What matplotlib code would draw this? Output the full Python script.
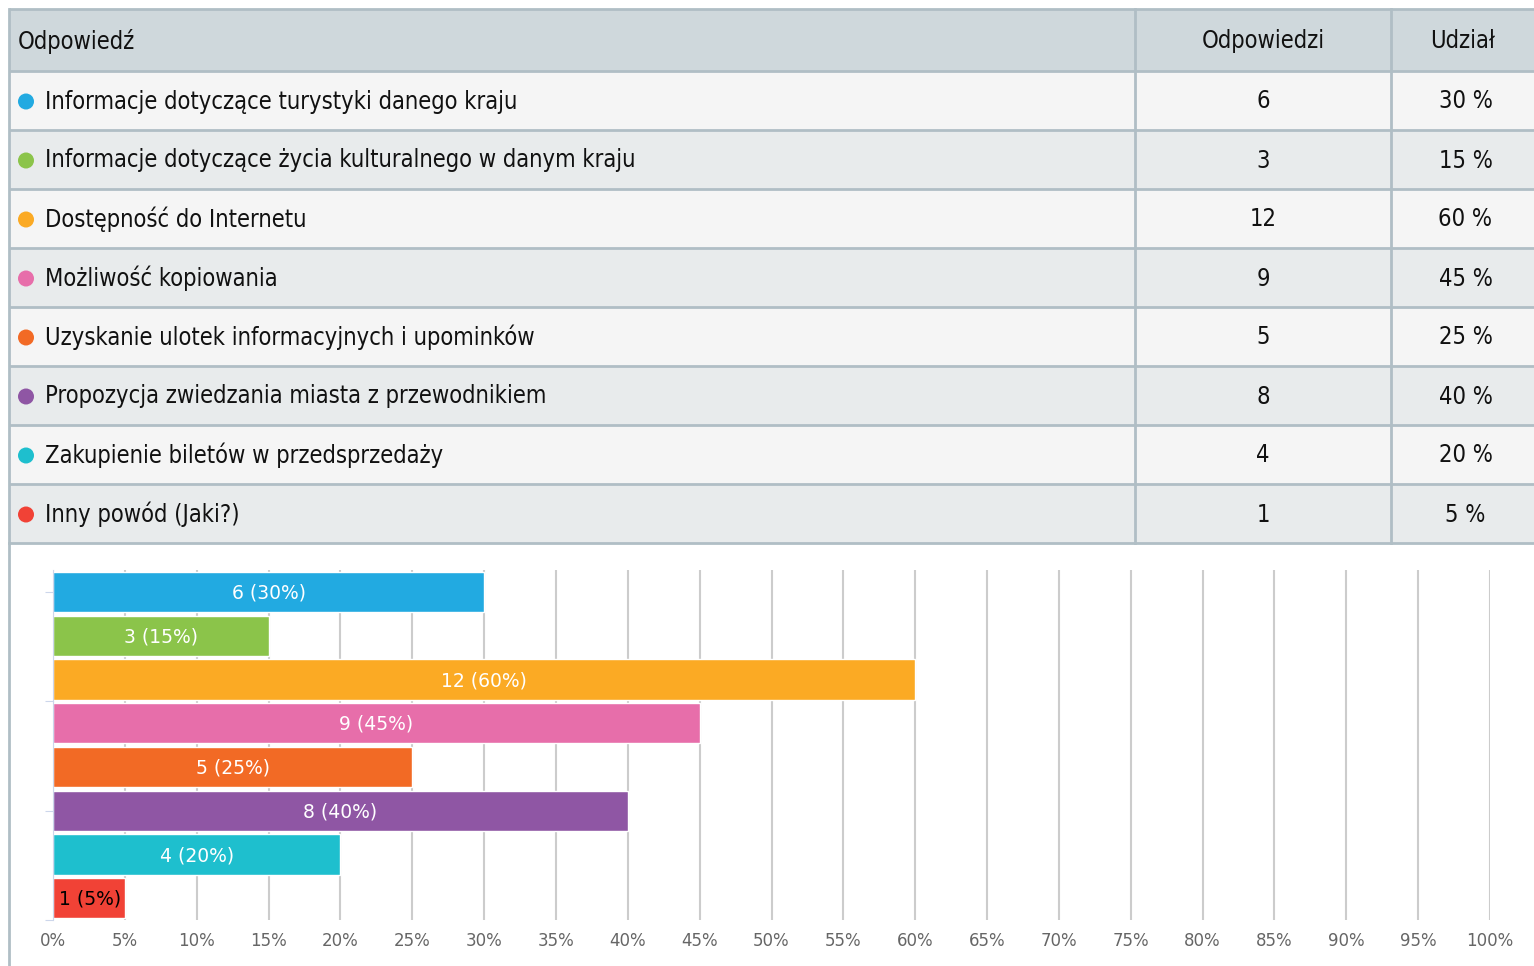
import matplotlib.pyplot as plt
from matplotlib.patches import Rectangle, Circle

# data
answers = [
    'Informacje dotyczące turystyki danego kraju',
    'Informacje dotyczące życia kulturalnego w danym kraju',
    'Dostępność do Internetu',
    'Możliwość kopiowania',
    'Uzyskanie ulotek informacyjnych i upominków',
    'Propozycja zwiedzania miasta z przewodnikiem',
    'Zakupienie biletów w przedsprzedaży',
    'Inny powód (Jaki?)',
]
counts = [6, 3, 12, 9, 5, 8, 4, 1]
shares = [30, 15, 60, 45, 25, 40, 20, 5]
colors = ['#22aae1', '#8bc44a', '#fbaa24', '#e76eaa', '#f26a25',
          '#8f56a4', '#1ebfce', '#f14236']
headers = ['Odpowiedź', 'Odpowiedzi', 'Udział']
xticks = list(range(0, 101, 5))

W, H = 1534, 966
fig = plt.figure(figsize=(W / 100, H / 100), dpi=100)

# ---- table (pixel coordinates) ----
tab = fig.add_axes([0, 0, 1, 1])
tab.set_xlim(0, W)
tab.set_ylim(H, 0)
tab.axis('off')

x0, c1, c2, x1 = 9, 1135, 1391, W + 5
top, head_h, row_h = 9, 62, 59
line = '#b0bec5'

tab.add_patch(Rectangle((x0, top), x1 - x0, head_h, fc='#cfd8dc', ec='none'))
for i in range(len(answers)):
    y = top + head_h + i * row_h
    fc = '#f5f5f5' if i % 2 == 0 else '#e8ebec'
    tab.add_patch(Rectangle((x0, y), x1 - x0, row_h, fc=fc, ec='none'))

bottom = top + head_h + len(answers) * row_h
for k in range(len(answers) + 2):
    y = top + head_h + (k - 1) * row_h if k > 0 else top
    tab.plot([x0, x1], [y, y], color=line, lw=2, solid_capstyle='butt')
for x in [x0, c1, c2]:
    tab.plot([x, x], [top, bottom], color=line, lw=2)
tab.plot([x0, x0], [bottom, H], color=line, lw=2)

txt = dict(fontsize=17, family='DejaVu Sans', fontstretch='condensed',
           va='center', color='#111111')
ty = top + head_h / 2 + 1
tab.text(18, ty, headers[0], ha='left', **txt)
tab.text((c1 + c2) / 2, ty, headers[1], ha='center', **txt)
tab.text((c2 + W) / 2, ty, headers[2], ha='center', **txt)
for i, (a, n, s, c) in enumerate(zip(answers, counts, shares, colors)):
    yc = top + head_h + i * row_h + row_h / 2 + 1
    tab.add_patch(Circle((26, yc), 8, fc=c, ec='none'))
    tab.text(45, yc, a, ha='left', **txt)
    tab.text((c1 + c2) / 2, yc, str(n), ha='center', **txt)
    tab.text((c2 + W) / 2 + 3, yc, f'{s} %', ha='center', **txt)

# ---- bar chart ----
ax = fig.add_axes([53 / W, 1 - 920 / H, (1490 - 53) / W, (920 - 570) / H])
pos = list(range(len(shares)))
ax.barh(pos, shares, height=0.92, color=colors, edgecolor='white', linewidth=1, zorder=2)
ax.set_ylim(len(shares) - 0.5, -0.5)
ax.set_xlim(0, 100)
ax.set_xticks(xticks)
ax.set_xticklabels([f'{t}%' for t in xticks], fontsize=12, color='#666666')
ax.set_yticks([0, 2.5, 5, 7.5])
ax.set_yticklabels([])
ax.tick_params(axis='y', length=6, color='#ccd6eb')
ax.grid(axis='x', color='#cccccc', lw=1.5, zorder=0)
for sp in ax.spines.values():
    sp.set_visible(False)
ax.spines['left'].set_visible(True)
ax.spines['left'].set_color('#ccd6eb')
ax.tick_params(axis='x', length=0, pad=9)
for p, n, s in zip(pos, counts, shares):
    if s >= 10:
        ax.text(s / 2, p + 0.03, f'{n} ({s}%)', ha='center', va='center',
                color='white', fontsize=13.5, zorder=3)
    else:
        ax.text(0.4, p + 0.03, f'{n} ({s}%)', ha='left', va='center',
                color='black', fontsize=13.5, zorder=3)

fig.savefig('out.png', dpi=100)
